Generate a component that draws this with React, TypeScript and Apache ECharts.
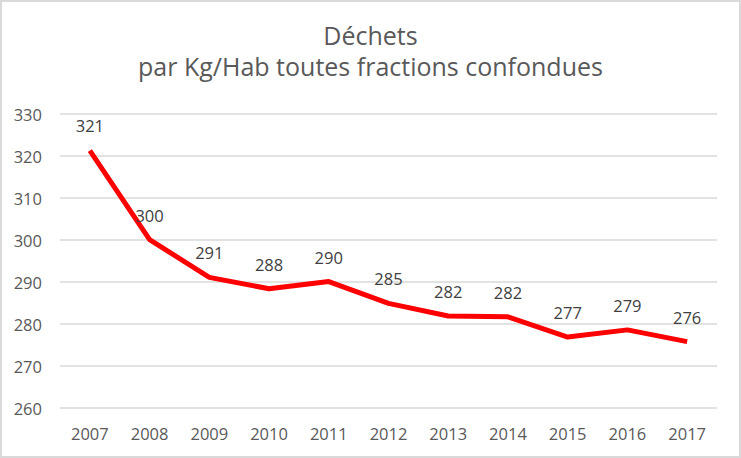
import * as echarts from "echarts";
import { useEffect, useRef } from "react";

const years = ["2007", "2008", "2009", "2010", "2011", "2012", "2013", "2014", "2015", "2016", "2017"];
const wastePerInhabitant = [321.3, 300.1, 291.1, 288.4, 290.1, 284.9, 281.9, 281.7, 276.9, 278.6, 275.8];

const textFont = "'Open Sans', 'Noto Sans', sans-serif";

export default function App() {
    const chartRef = useRef<HTMLDivElement>(null);

    useEffect(() => {
        if (!chartRef.current) return;
        const chart = echarts.init(chartRef.current, null, { renderer: "svg" });

        const option: echarts.EChartsOption = {
            animation: false,
            title: {
                text: "Déchets\npar Kg/Hab toutes fractions confondues",
                left: "center",
                top: 14,
                textStyle: {
                    fontFamily: textFont,
                    fontSize: 25,
                    fontWeight: "normal",
                    color: "#595959",
                    lineHeight: 31
                }
            },
            grid: {
                left: 60,
                right: 24,
                top: 114,
                bottom: 50
            },
            xAxis: {
                type: "category",
                data: years,
                boundaryGap: true,
                axisLine: { show: false },
                axisTick: { show: false },
                axisLabel: {
                    fontFamily: textFont,
                    fontSize: 16.5,
                    color: "#595959",
                    margin: 17
                }
            },
            yAxis: {
                type: "value",
                min: 260,
                max: 330,
                interval: 10,
                axisLine: { show: false },
                axisTick: { show: false },
                axisLabel: {
                    fontFamily: textFont,
                    fontSize: 16.5,
                    color: "#595959",
                    margin: 18
                },
                splitLine: {
                    lineStyle: { color: "#d9d9d9", width: 1.5 }
                }
            },
            series: [
                {
                    type: "line",
                    data: wastePerInhabitant,
                    symbol: "circle",
                    symbolSize: 0.1,
                    showSymbol: true,
                    lineStyle: { color: "#ff0000", width: 5 },
                    itemStyle: { color: "#ff0000" },
                    label: {
                        show: true,
                        position: "top",
                        distance: 16,
                        fontFamily: textFont,
                        fontSize: 16.5,
                        color: "#404040",
                        formatter: (p: any) => String(Math.round(p.value))
                    }
                }
            ]
        };

        chart.setOption(option);
        return () => {
            chart.dispose();
        };
    }, []);

    return (
        <div
            style={{
                position: "absolute",
                left: 0,
                top: 0,
                width: 741,
                height: 458,
                boxSizing: "border-box",
                border: "2px solid #d9d9d9",
                background: "#fff"
            }}
        >
            <div ref={chartRef} style={{ position: "absolute", left: -2, top: -2, width: 741, height: 458 }} />
        </div>
    );
}
